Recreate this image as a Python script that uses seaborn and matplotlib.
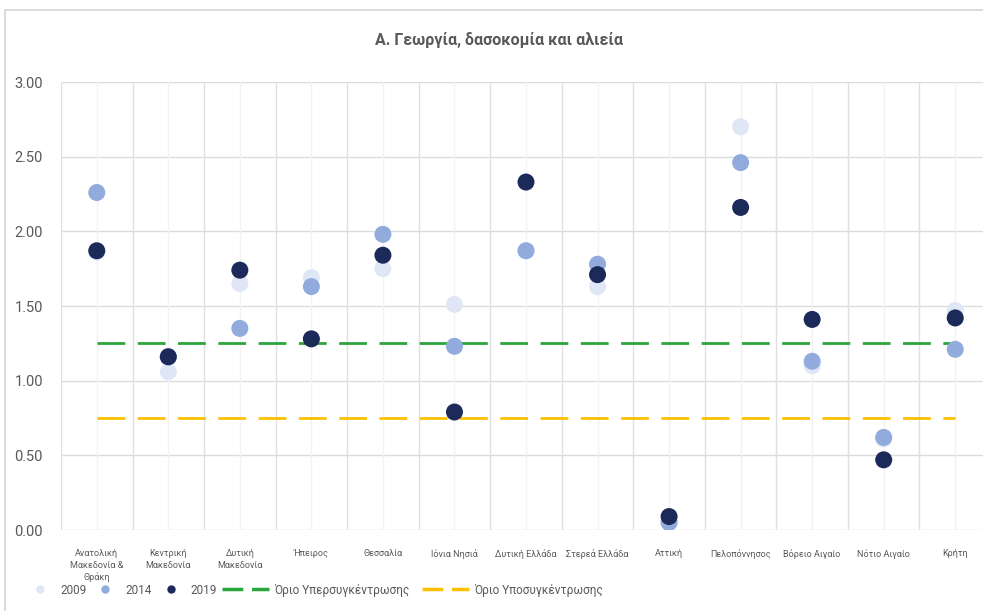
import pandas as pd
import seaborn as sns
import matplotlib.pyplot as plt
from matplotlib.patches import Rectangle

regions = ["Ανατολική\nΜακεδονία &\nΘράκη", "Κεντρική\nΜακεδονία", "Δυτική\nΜακεδονία",
           "Ήπειρος", "Θεσσαλία", "Ιόνια Νησιά", "Δυτική Ελλάδα", "Στερεά Ελλάδα",
           "Αττική", "Πελοπόννησος", "Βόρειο Αιγαίο", "Νότιο Αιγαίο", "Κρήτη"]
years = ["2009", "2014", "2019"]
lq_2009 = [1.86, 1.06, 1.65, 1.69, 1.75, 1.51, 1.87, 1.63, 0.06, 2.70, 1.10, 0.61, 1.47]
lq_2014 = [2.26, 1.16, 1.35, 1.63, 1.98, 1.23, 1.87, 1.78, 0.05, 2.46, 1.13, 0.62, 1.21]
lq_2019 = [1.87, 1.16, 1.74, 1.28, 1.84, 0.79, 2.33, 1.71, 0.09, 2.16, 1.41, 0.47, 1.42]
over_limit = 1.25
under_limit = 0.75
over_label = "Όριο Υπερσυγκέντρωσης"
under_label = "Όριο Υποσυγκέντρωσης"

points = pd.DataFrame({
    "region": regions * 3,
    "year": [y for y in years for _ in regions],
    "value": lq_2009 + lq_2014 + lq_2019,
})
limits = pd.DataFrame({
    "region": regions * 2,
    "limit": [over_label] * len(regions) + [under_label] * len(regions),
    "value": [over_limit] * len(regions) + [under_limit] * len(regions),
})

sns.set_style("white")
plt.rcParams["font.family"] = ["Roboto", "DejaVu Sans"]
text_col = "#595959"
year_cols = {"2009": "#dfe7f6", "2014": "#92abdd", "2019": "#1c2a5a"}
limit_cols = {over_label: "#2aa63c", under_label: "#ffc000"}

fig = plt.figure(figsize=(9.83, 6.11), dpi=100)
ax = fig.add_axes([61 / 983, 1 - 530 / 611, 930 / 983, 448 / 611])

# threshold lines (behind the points)
sns.lineplot(data=limits, x="region", y="value", hue="limit", sort=False,
             palette=limit_cols, linewidth=2.0, ax=ax, legend=False, zorder=2)
for line in ax.get_lines():
    line.set_dashes((10, 4.5))

sns.scatterplot(data=points, x="region", y="value", hue="year", palette=year_cols,
                s=150, linewidth=0, ax=ax, legend=False, zorder=3)

ax.set_xlim(-0.5, len(regions) - 0.5)
ax.set_ylim(0, 3)
ax.set_yticks([0, 0.5, 1, 1.5, 2, 2.5, 3])
ax.set_yticklabels([f"{v:.2f}" for v in [0, 0.5, 1, 1.5, 2, 2.5, 3]])
ax.set_xlabel("")
ax.set_ylabel("")
for s in ax.spines.values():
    s.set_visible(False)

# grid: horizontal lines, vertical lines at category borders and (lighter) centres
for v in [0, 0.5, 1, 1.5, 2, 2.5, 3]:
    ax.axhline(v, color="#dcdcdc", lw=1.0, zorder=0)
for i in range(len(regions) + 1):
    ax.axvline(i - 0.5, color="#e0e0e0", lw=1.0, zorder=0)
for i in range(len(regions)):
    ax.axvline(i, color="#f2f2f2", lw=1.0, zorder=0)

ax.tick_params(axis="y", labelsize=10.5, labelcolor=text_col, length=0, pad=13)
ax.tick_params(axis="x", labelsize=6.5, labelcolor=text_col, length=0, pad=14)
for lab in ax.get_xticklabels():
    lab.set_linespacing(1.3)
    lab.set_verticalalignment("top")

fig.text(0.508, 1 - 40 / 611, "Α. Γεωργία, δασοκομία και αλιεία", ha="center", va="center",
         fontsize=11.5, fontweight="bold", color=text_col)

# legend: markers and threshold lines in two pieces so handle lengths differ
ypos = 1 - 590 / 611
marker_handles = [plt.Line2D([], [], ls="none", marker="o", ms=5, color=year_cols[y], label=y)
                  for y in years]
fig.legend(handles=marker_handles, loc="center left", bbox_to_anchor=(33 / 983, ypos),
           ncol=3, frameon=False, fontsize=8.5, labelcolor=text_col,
           borderpad=0, borderaxespad=0,
           handlelength=1.2, columnspacing=1.0, handletextpad=1.1)
line_handles = [plt.Line2D([], [], color=limit_cols[k], lw=2.5, dashes=(6, 2.5), label=k)
                for k in [over_label, under_label]]
fig.legend(handles=line_handles, loc="center left", bbox_to_anchor=(222 / 983, ypos),
           ncol=2, frameon=False, fontsize=8.5, labelcolor=text_col,
           borderpad=0, borderaxespad=0,
           handlelength=4.0, columnspacing=1.1, handletextpad=0.4)

fig.patches.append(Rectangle((5 / 983, -0.1), 1.2, 1.1 - 10 / 611, transform=fig.transFigure,
                             fill=False, edgecolor="#d4d4d4", lw=1.2))

fig.savefig("out.png", dpi=100)
